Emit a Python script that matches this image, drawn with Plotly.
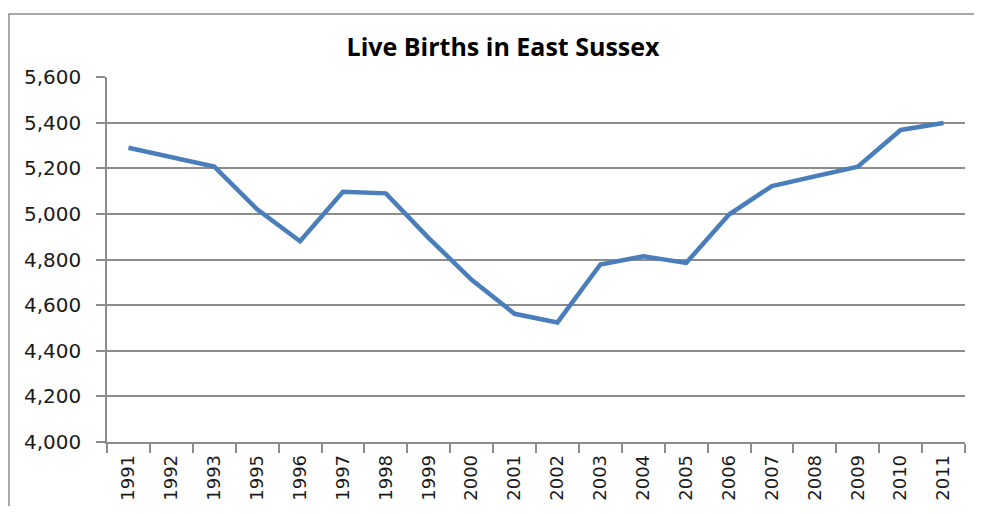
import plotly.graph_objects as go

years = ["1991", "1992", "1993", "1995", "1996", "1997", "1998", "1999", "2000", "2001",
         "2002", "2003", "2004", "2005", "2006", "2007", "2008", "2009", "2010", "2011"]
births = [5290, 5248, 5207, 5020, 4880, 5097, 5090, 4894, 4711, 4562,
          4524, 4778, 4814, 4785, 4997, 5122, 5162, 5207, 5368, 5398]
y_ticks = [4000, 4200, 4400, 4600, 4800, 5000, 5200, 5400, 5600]

# page body has an 8px margin, so the figure is sized to fit inside the window
W, H = 966, 498
L, R, T, B = 99, 9, 69, 64
pw, ph = W - L - R, H - T - B

fig = go.Figure()
fig.add_trace(go.Scatter(
    x=years, y=births, mode="lines",
    line=dict(color="#4A7EBB", width=4.5),
    hoverinfo="x+y", showlegend=False,
))

x_font = dict(family="DejaVu Sans, Verdana, sans-serif", size=18, color="#1a1a1a")
y_font = dict(family="DejaVu Sans, Verdana, sans-serif", size=20, color="#1a1a1a")

fig.update_layout(
    width=W, height=H,
    margin=dict(l=L, r=R, t=T, b=B, pad=0),
    paper_bgcolor="white", plot_bgcolor="white",
    title=dict(text="<b>Live Births in East Sussex</b>",
               x=495 / W, xanchor="center", xref="container",
               y=1 - 39.5 / H, yanchor="middle", yref="container",
               font=dict(family="Open Sans", size=25, color="#000000")),
    xaxis=dict(
        type="category", tickson="boundaries", tickangle=-90,
        range=[-0.5, len(years) - 0.5], automargin=False,
        showgrid=False, showline=True, linecolor="#8c8c8c", linewidth=1.5,
        ticks="outside", ticklen=9, tickcolor="#8c8c8c", tickwidth=1.5,
        tickfont=x_font, zeroline=False, ticklabelstandoff=4,
    ),
    yaxis=dict(
        range=[4000, 5600], tickvals=y_ticks, tickformat=",", automargin=False,
        showgrid=True, gridcolor="#8c8c8c", gridwidth=1.5,
        showline=True, linecolor="#8c8c8c", linewidth=1.5,
        ticks="outside", ticklen=9, tickcolor="#8c8c8c", tickwidth=1.5,
        tickfont=y_font, zeroline=False, ticklabelstandoff=11,
    ),
)

# outer chart-area border
fig.add_shape(type="rect", xref="paper", yref="paper",
              x0=(1 - L) / pw, x1=(W + 20 - L) / pw,
              y0=-(B + 20) / ph, y1=(H - B - 6) / ph,
              line=dict(color="#8c8c8c", width=1.5), fillcolor="rgba(0,0,0,0)",
              layer="below")

fig.write_html("out.html")
